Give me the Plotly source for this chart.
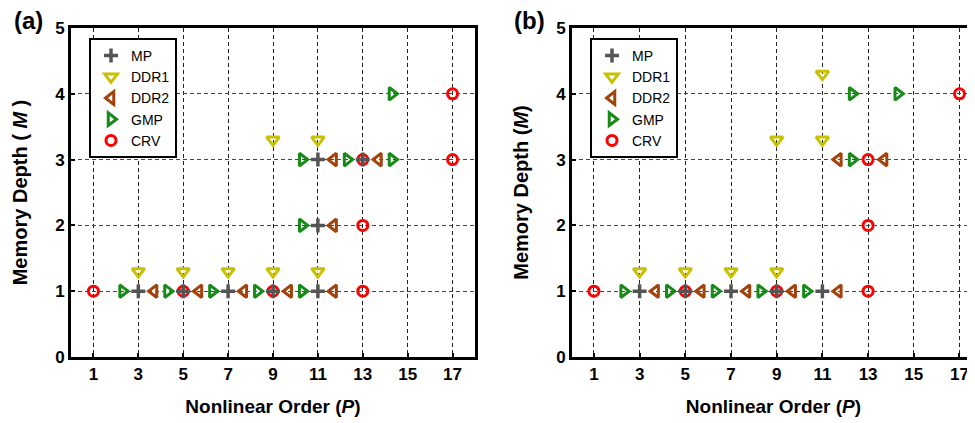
import plotly.graph_objects as go

# ---------------- data ----------------
P_TICKS = [1, 3, 5, 7, 9, 11, 13, 15, 17]
M_TICKS = [0, 1, 2, 3, 4, 5]
SERIES = ["MP", "DDR1", "DDR2", "GMP", "CRV"]

# panel (a)
a_MP_P = [3, 5, 7, 9, 11, 11, 11, 13]
a_MP_M = [1, 1, 1, 1, 1, 2, 3, 3]
a_DDR1_P = [3, 5, 7, 9, 11, 9, 11]
a_DDR1_M = [1, 1, 1, 1, 1, 3, 3]
a_DDR2_P = [3, 5, 7, 9, 11, 11, 11, 13]
a_DDR2_M = [1, 1, 1, 1, 1, 2, 3, 3]
a_GMP_P = [3, 5, 7, 9, 11, 11, 11, 13, 15, 15]
a_GMP_M = [1, 1, 1, 1, 1, 2, 3, 3, 3, 4]
a_CRV_P = [1, 5, 9, 13, 13, 13, 17, 17]
a_CRV_M = [1, 1, 1, 1, 2, 3, 3, 4]

# panel (b)
b_MP_P = [3, 5, 7, 9, 11]
b_MP_M = [1, 1, 1, 1, 1]
b_DDR1_P = [3, 5, 7, 9, 9, 11, 11]
b_DDR1_M = [1, 1, 1, 1, 3, 3, 4]
b_DDR2_P = [3, 5, 7, 9, 11, 11, 13]
b_DDR2_M = [1, 1, 1, 1, 1, 3, 3]
b_GMP_P = [3, 5, 7, 9, 11, 13, 13, 15]
b_GMP_M = [1, 1, 1, 1, 1, 3, 4, 4]
b_CRV_P = [1, 5, 9, 13, 13, 13, 17]
b_CRV_M = [1, 1, 1, 1, 2, 3, 4]

PANELS = {
    "a": {"MP": (a_MP_P, a_MP_M), "DDR1": (a_DDR1_P, a_DDR1_M), "DDR2": (a_DDR2_P, a_DDR2_M),
          "GMP": (a_GMP_P, a_GMP_M), "CRV": (a_CRV_P, a_CRV_M)},
    "b": {"MP": (b_MP_P, b_MP_M), "DDR1": (b_DDR1_P, b_DDR1_M), "DDR2": (b_DDR2_P, b_DDR2_M),
          "GMP": (b_GMP_P, b_GMP_M), "CRV": (b_CRV_P, b_CRV_M)},
}

# ---------------- styles ----------------
STYLE = {
    "MP":   dict(symbol="cross-thin-open", color="#555555", size=10, lw=3.5, dx=0.0, dy=0.0),
    "DDR1": dict(symbol="triangle-down-open", color="#C8C000", size=11, lw=3, dx=0.0, dy=0.3),
    "DDR2": dict(symbol="triangle-left-open", color="#A4420C", size=11, lw=3, dx=0.7, dy=0.0),
    "GMP":  dict(symbol="triangle-right-open", color="#178A17", size=11, lw=3, dx=-0.7, dy=0.0),
    "CRV":  dict(symbol="circle-open", color="#FF0000", size=10, lw=3, dx=0.0, dy=0.0),
}
ORDER_DRAW = ["DDR1", "DDR2", "GMP", "CRV", "MP"]
FONT = "Liberation Sans, Arial, sans-serif"

# page body has an 8px margin -> figure sized to fit the 975x423 window
W, H = 967, 415

fig = go.Figure()

for pi, (panel, data) in enumerate(PANELS.items()):
    xa = "x" if pi == 0 else "x2"
    ya = "y" if pi == 0 else "y2"
    leg = "legend" if pi == 0 else "legend2"
    for name in SERIES:
        st = STYLE[name]
        P, M = data[name]
        fig.add_trace(go.Scatter(
            x=[p + st["dx"] for p in P], y=[m + st["dy"] for m in M],
            mode="markers", name=name, xaxis=xa, yaxis=ya, legend=leg,
            legendrank=SERIES.index(name) + 1,
            marker=dict(symbol=st["symbol"], color=st["color"], size=st["size"],
                        line=dict(width=st["lw"], color=st["color"])),
            cliponaxis=False,
        ))

# draw MP / CRV on top; legend order kept via legendrank
fig.data = tuple(sorted(fig.data, key=lambda t: ORDER_DRAW.index(t.name)))

tick_font = dict(family=FONT, size=17, color="black", weight="bold")
xtitle_font = dict(family=FONT, size=19, color="black", weight="bold")
ytitle_font = dict(family=FONT, size=20, color="black", weight="bold")
Y_DOMAIN = [1 - 349 / H, 1 - 20 / H]

def xaxis(domain, rng, anchor):
    return dict(domain=domain, range=rng, anchor=anchor, automargin=False,
                tickvals=P_TICKS, ticktext=[str(v) for v in P_TICKS],
                showgrid=True, gridcolor="#222222", gridwidth=1, griddash="4px,3px",
                zeroline=False, showline=True, linecolor="black", linewidth=3, mirror=True,
                ticks="inside", ticklen=4, tickwidth=2, tickcolor="black",
                tickfont=tick_font,
                title=dict(text="Nonlinear Order (<i>P</i>)", font=xtitle_font, standoff=17))

def yaxis(anchor, title, mirror):
    return dict(domain=Y_DOMAIN, range=[0, 5], anchor=anchor, automargin=False,
                tickvals=M_TICKS, ticktext=[str(v) for v in M_TICKS],
                showgrid=True, gridcolor="#444444", gridwidth=1, griddash="4px,3px",
                zeroline=False, showline=True, linecolor="black", linewidth=3, mirror=mirror,
                ticks="inside", ticklen=4, tickwidth=2, tickcolor="black",
                tickfont=tick_font,
                title=dict(text=title, font=ytitle_font, standoff=23))

legend_common = dict(bgcolor="white", bordercolor="black", borderwidth=2,
                     font=dict(family=FONT, size=14, color="black"),
                     xanchor="left", yanchor="top", itemwidth=30)

label_font = dict(family=FONT, size=24, color="black", weight="bold")

fig.update_layout(
    width=W, height=H,
    margin=dict(l=0, r=0, t=0, b=0, autoexpand=False),
    paper_bgcolor="white", plot_bgcolor="white",
    showlegend=True,
    xaxis=xaxis([63 / W, 467 / W], [0, 18], "y"),
    yaxis=yaxis("x", "Memory Depth ( <i>M</i> )", True),
    xaxis2=xaxis([564 / W, 1.0], [0.04, 17.68], "y2"),
    yaxis2=yaxis("x2", "Memory Depth (<i>M</i>)", False),
    legend=dict(x=81 / W, y=1 - 30 / H, **legend_common),
    legend2=dict(x=582 / W, y=1 - 30 / H, **legend_common),
    annotations=[
        dict(text="(a)", x=20 / W, y=1 - 13 / H, xref="paper", yref="paper",
             xanchor="center", yanchor="middle", showarrow=False, font=label_font),
        dict(text="(b)", x=521 / W, y=1 - 12 / H, xref="paper", yref="paper",
             xanchor="center", yanchor="middle", showarrow=False, font=label_font),
    ],
)

fig.write_html("out.html")
